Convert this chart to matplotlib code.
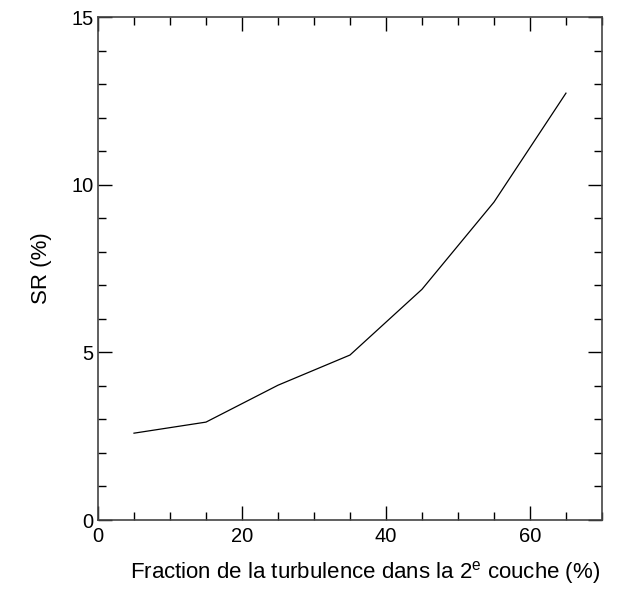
import matplotlib
matplotlib.use('Agg')
import matplotlib.pyplot as plt
from matplotlib.ticker import MultipleLocator

plt.rcParams['font.family'] = ['Liberation Sans', 'DejaVu Sans']
plt.rcParams['mathtext.fontset'] = 'custom'
plt.rcParams['mathtext.rm'] = 'Liberation Sans'
plt.rcParams['mathtext.it'] = 'Liberation Sans:italic'

# Données
fraction = [5, 15, 25, 35, 45, 55, 65]
sr = [2.59, 2.92, 4.02, 4.92, 6.88, 9.48, 12.73]

fig = plt.figure(figsize=(6.29, 6.08), dpi=100)
ax = fig.add_axes([0.1558, 0.1447, 0.8012, 0.8273])

ax.plot(fraction, sr, color='black', linewidth=0.9)

ax.set_xlim(0, 70)
ax.set_ylim(0, 15)
ax.xaxis.set_major_locator(MultipleLocator(20))
ax.xaxis.set_minor_locator(MultipleLocator(5))
ax.yaxis.set_major_locator(MultipleLocator(5))
ax.yaxis.set_minor_locator(MultipleLocator(1))
ax.tick_params(which='both', direction='in', top=True, right=True, labelsize=14.5)
ax.tick_params(axis='x', pad=5)
ax.tick_params(axis='y', pad=3)
ax.tick_params(which='major', length=10, width=1)
ax.tick_params(which='minor', length=6, width=1)
for s in ax.spines.values():
    s.set_color('#444444')
    s.set_linewidth(1.2)

ax.set_xlabel(r'Fraction de la turbulence dans la 2$^{\mathrm{e}}$ couche (%)', fontsize=16, labelpad=9.5, x=0.53)
ax.set_ylabel('SR (%)', fontsize=16, labelpad=14)

fig.savefig('out.png', dpi=100)
